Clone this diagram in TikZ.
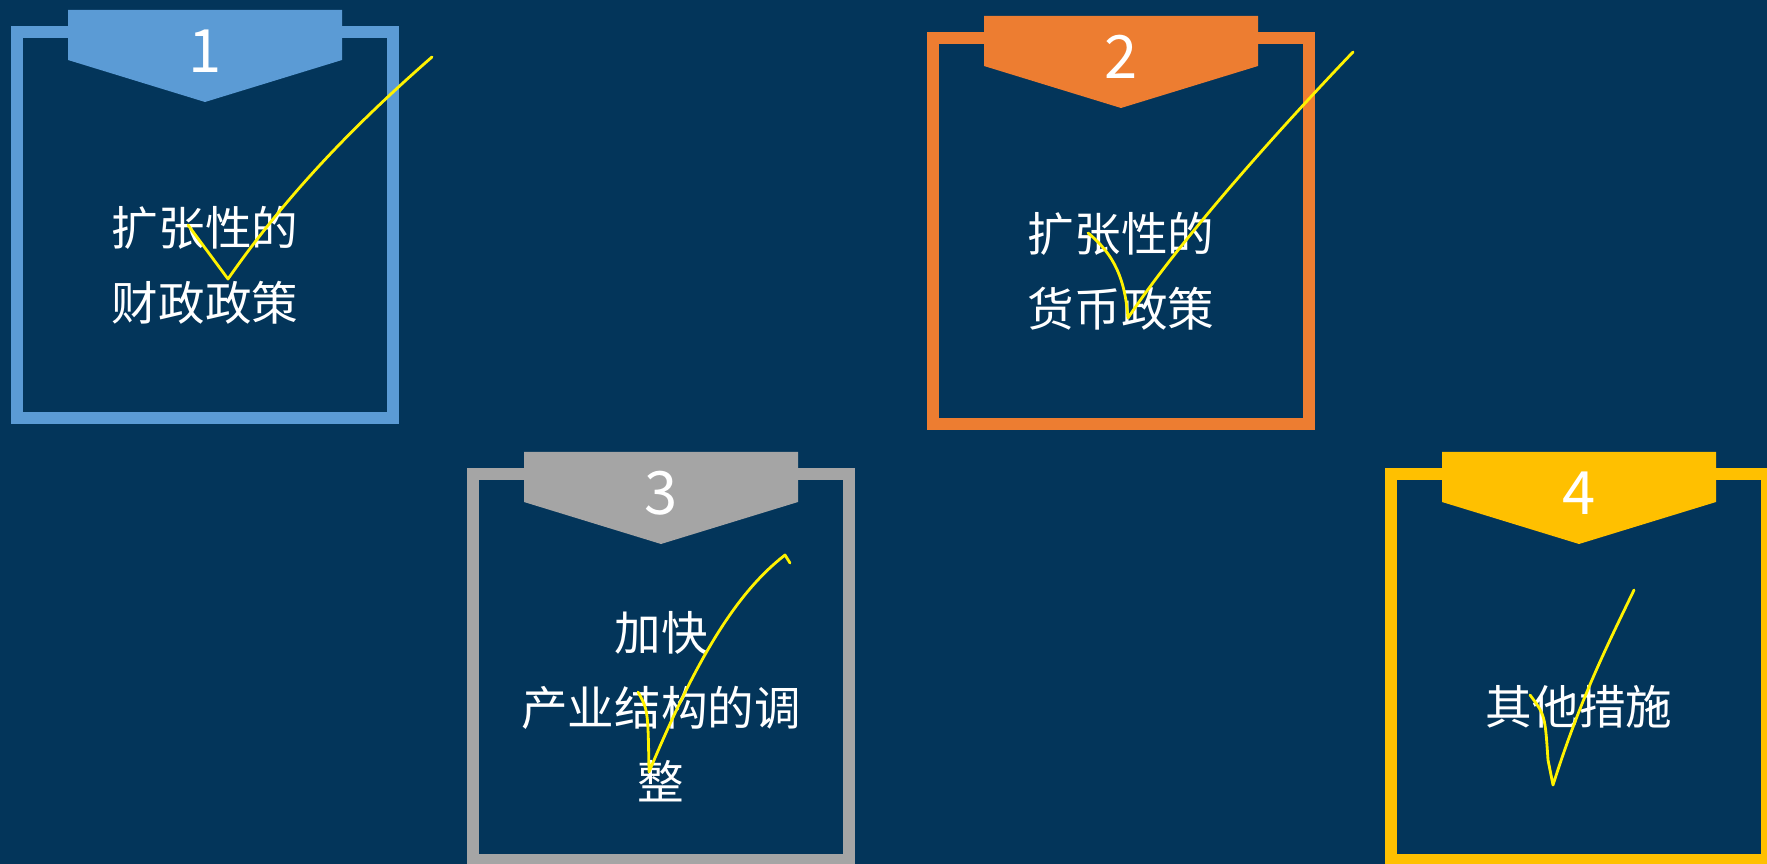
\documentclass[tikz,border=0pt]{standalone}
\usepackage{fontspec}
\setmainfont{Noto Sans CJK SC}
\definecolor{navy}{HTML}{03355A}
\definecolor{cardblue}{HTML}{5B9BD5}
\definecolor{cardorange}{HTML}{ED7D31}
\definecolor{cardgray}{HTML}{A5A5A5}
\definecolor{cardgold}{HTML}{FFC000}
\tikzset{
    frame/.style={line width=6.8pt},
    numtext/.style={text=white, font=\fontsize{34}{34}\selectfont},
    cardtext/.style={text=white, align=center, font=\fontsize{26.5}{42.5}\selectfont},
    tick/.style={draw=yellow, line width=1.6pt, line cap=round, line join=round}
}
\begin{document}
\begin{tikzpicture}[x=0.02cm,y=-0.02cm]
    \fill[navy] (0,0) rectangle (1767,864);
    \useasboundingbox (0,0) rectangle (1767,864);
    % four cards: centre x / frame top / colour / number / text
    \foreach \cx/\ty/\col/\num/\txt in {
        205/32/cardblue/1/{扩张性的\\财政政策},
        1121/38/cardorange/2/{扩张性的\\货币政策},
        661/474/cardgray/3/{加快\\产业结构的调\\整},
        1579/474/cardgold/4/{其他措施}} {
        \draw[frame, draw=\col] (\cx-188,\ty) rectangle (\cx+188,\ty+386);
        \fill[\col] (\cx-137,\ty-22) -- (\cx+137,\ty-22) -- (\cx+137,\ty+28)
            -- (\cx,\ty+70) -- (\cx-137,\ty+28) -- cycle;
        \node[numtext] (num\num) at (\cx,\ty+19) {\num};
        \node[cardtext] (label\num) at (\cx,\ty+233) {\txt};
    }
    % hand-drawn ticks
    \draw[tick] (188,225) -- (228,279) .. controls (290,190) and (360,120) .. (432,57);
    \draw[tick] (1088,233) .. controls (1115,255) and (1125,280) .. (1128,318)
        .. controls (1170,255) and (1250,160) .. (1353,52);
    \draw[tick] (638,692) .. controls (648,710) .. (649,772)
        .. controls (700,650) and (740,590) .. (785,555) -- (790,563);
    \draw[tick] (1530,695) .. controls (1545,715) .. (1548,760) -- (1553,785)
        .. controls (1580,700) and (1605,650) .. (1634,590);
\end{tikzpicture}
\end{document}
